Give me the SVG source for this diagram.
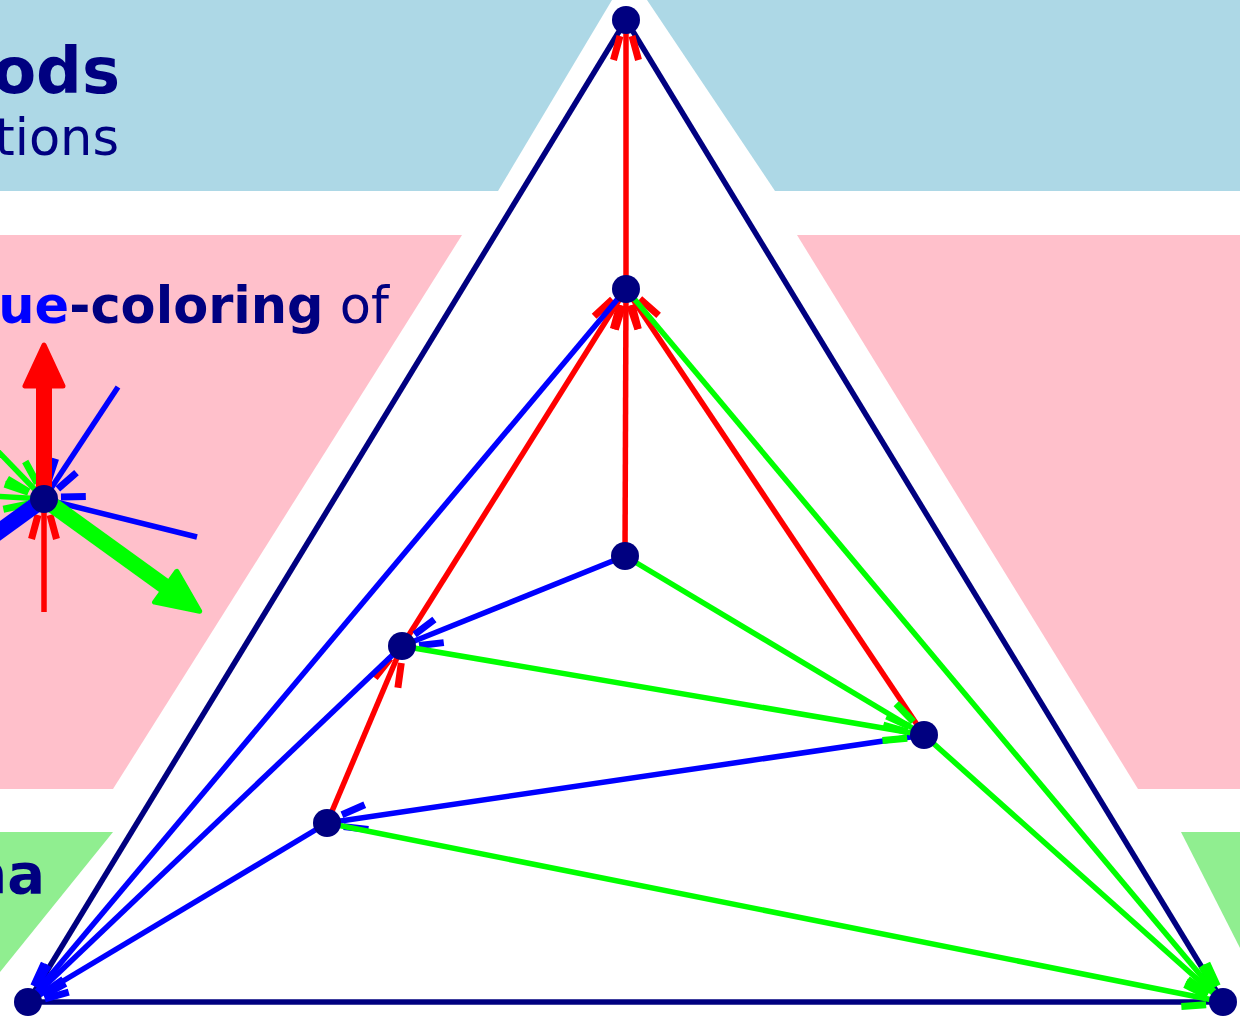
<svg xmlns="http://www.w3.org/2000/svg" width="1240" height="1021" viewBox="0 0 1240 1021">
<style>
.t{font-family:"DejaVu Sans",sans-serif;fill:#000080}
.b{font-weight:bold}
.e{fill:none;stroke-width:5.5;stroke-linecap:butt}
.r{stroke:#f00}.u{stroke:#00f}.g{stroke:#0f0}.n{stroke:#000080}
.node{fill:#000080}
</style>
<defs>
<marker id="mr" markerUnits="userSpaceOnUse" orient="auto" markerWidth="100" markerHeight="100" viewBox="-50 -50 100 100" refX="0" refY="0" overflow="visible"><path d="M-16,-6 L-40,-12.5 M-16,6 L-40,12.5" stroke="#f00" stroke-width="7" fill="none"/></marker>
<marker id="mu" markerUnits="userSpaceOnUse" orient="auto" markerWidth="100" markerHeight="100" viewBox="-50 -50 100 100" refX="0" refY="0" overflow="visible"><path d="M-16,-6 L-40,-12.5 M-16,6 L-40,12.5" stroke="#00f" stroke-width="7" fill="none"/></marker>
<marker id="mg" markerUnits="userSpaceOnUse" orient="auto" markerWidth="100" markerHeight="100" viewBox="-50 -50 100 100" refX="0" refY="0" overflow="visible"><path d="M-16,-6 L-40,-12.5 M-16,6 L-40,12.5" stroke="#0f0" stroke-width="7" fill="none"/></marker>
</defs>
<rect width="1240" height="1021" fill="#fff"/>
<g id="bands">
<polygon points="0,0 612,0 498,191 0,191" fill="#ADD8E6"/>
<polygon points="647,0 1240,0 1240,191 775,191" fill="#ADD8E6"/>
<polygon points="0,235 462,235 113,789 0,789" fill="#FFC0CB"/>
<polygon points="797,235 1240,235 1240,789 1138,789" fill="#FFC0CB"/>
<polygon points="0,832 113,832 0,972" fill="#90EE90"/>
<polygon points="1181,832 1240,832 1240,948" fill="#90EE90"/>
</g>
<g id="texts">
<text class="t b" x="120" y="93" font-size="64" text-anchor="end">ods</text>
<text class="t" x="119" y="155" font-size="51" text-anchor="end">tions</text>
<text class="t" x="389" y="323" font-size="51" text-anchor="end"><tspan class="b" fill="#00f">ue</tspan><tspan class="b">-coloring</tspan> of</text>
<text class="t b" x="45" y="893" font-size="56" text-anchor="end">na</text>
</g>
<g id="legend">
<line class="e r" x1="44" y1="612" x2="44" y2="499" marker-end="url(#mr)"/>
<line class="e u" x1="118" y1="387" x2="44" y2="499" marker-end="url(#mu)"/>
<line class="e u" x1="197" y1="537" x2="44" y2="499" marker-end="url(#mu)"/>
<line class="e g" x1="-10" y1="443" x2="44" y2="499" marker-end="url(#mg)"/>
<line class="e g" x1="-10" y1="496" x2="44" y2="499" marker-end="url(#mg)"/>
<g transform="translate(44,499)">
<line x1="0" y1="0" x2="0" y2="-115" stroke="#f00" stroke-width="16"/>
<polygon points="-19,-113 19,-113 0,-154" fill="#f00" stroke="#f00" stroke-width="5" stroke-linejoin="round"/>
<g transform="rotate(35.8)">
<line x1="0" y1="0" x2="152" y2="0" stroke="#0f0" stroke-width="16"/>
<polygon points="150,-19 150,19 192,0" fill="#0f0" stroke="#0f0" stroke-width="5" stroke-linejoin="round"/>
</g>
<line x1="0" y1="0" x2="-90" y2="65" stroke="#00f" stroke-width="16"/>
</g>
<circle class="node" cx="44" cy="499" r="14"/>
</g>
<g id="connectors">
<line class="e n" x1="626" y1="20" x2="28" y2="1002"/>
<line class="e n" x1="626" y1="20" x2="1223" y2="1002"/>
<line class="e n" x1="28" y1="1002" x2="1223" y2="1002"/>
<line class="e r" x1="626" y1="289" x2="626" y2="20" marker-end="url(#mr)"/>
<line class="e r" x1="625" y1="556" x2="626" y2="289" marker-end="url(#mr)"/>
<line class="e r" x1="402" y1="646" x2="626" y2="289" marker-end="url(#mr)"/>
<line class="e r" x1="924" y1="735" x2="626" y2="289" marker-end="url(#mr)"/>
<line class="e r" x1="327" y1="823" x2="402" y2="646" marker-end="url(#mr)"/>
<line class="e u" x1="626" y1="289" x2="28" y2="1002" marker-end="url(#mu)"/>
<line class="e u" x1="625" y1="556" x2="402" y2="646" marker-end="url(#mu)"/>
<line class="e u" x1="402" y1="646" x2="28" y2="1002" marker-end="url(#mu)"/>
<line class="e u" x1="327" y1="823" x2="28" y2="1002" marker-end="url(#mu)"/>
<line class="e u" x1="924" y1="735" x2="327" y2="823" marker-end="url(#mu)"/>
<line class="e g" x1="626" y1="289" x2="1223" y2="1002" marker-end="url(#mg)"/>
<line class="e g" x1="625" y1="556" x2="924" y2="735" marker-end="url(#mg)"/>
<line class="e g" x1="402" y1="646" x2="924" y2="735" marker-end="url(#mg)"/>
<line class="e g" x1="327" y1="823" x2="1223" y2="1002" marker-end="url(#mg)"/>
<line class="e g" x1="924" y1="735" x2="1223" y2="1002" marker-end="url(#mg)"/>
</g>
<g id="nodeA"><circle class="node" cx="626" cy="20" r="14"/></g>
<g id="nodeB"><circle class="node" cx="626" cy="289" r="14"/></g>
<g id="nodeC"><circle class="node" cx="625" cy="556" r="14"/></g>
<g id="nodeD"><circle class="node" cx="402" cy="646" r="14"/></g>
<g id="nodeE"><circle class="node" cx="924" cy="735" r="14"/></g>
<g id="nodeF"><circle class="node" cx="327" cy="823" r="14"/></g>
<g id="nodeL"><circle class="node" cx="28" cy="1002" r="14"/></g>
<g id="nodeR"><circle class="node" cx="1223" cy="1002" r="14"/></g>
</svg>
